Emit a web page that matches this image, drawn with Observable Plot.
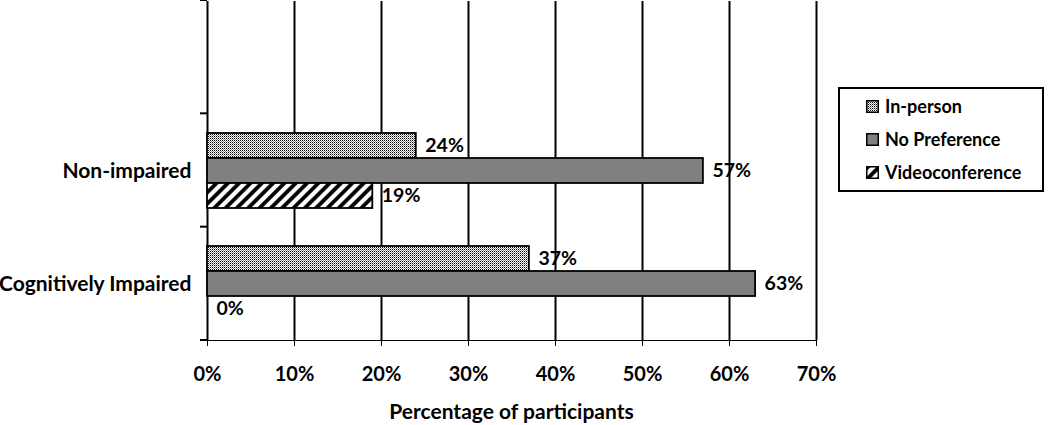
<!DOCTYPE html>
<html>
<head>
<meta charset="utf-8">
<script src="https://cdn.jsdelivr.net/npm/d3@7"></script>
<script src="https://cdn.jsdelivr.net/npm/@observablehq/plot@0.6"></script>
<style>
  body { margin: 0; background: #fff; }
  #wrap { position: relative; width: 1050px; height: 425px; font-family: Lato, sans-serif; }
  #defs { position: absolute; width: 0; height: 0; overflow: hidden; }
  #legend { position: absolute; left: 838px; top: 87px; width: 206px; height: 105px; box-sizing: border-box;
            border: 2px solid #000; background: #fff; padding: 1px 0 0 26px; }
  .item { height: 33px; line-height: 33px; font-weight: bold; font-size: 18px; color: #000; white-space: nowrap; display: flex; align-items: center; }
  .item svg { margin-right: 6px; flex: none; }
  #xtitle { position: absolute; left: 207px; width: 609px; top: 397px; text-align: center;
            font-weight: bold; font-size: 21px; line-height: 28px; color: #000; }
</style>
</head>
<body>
<div id="wrap">
  <svg id="defs" width="0" height="0">
    <defs>
      <pattern id="pin" patternUnits="userSpaceOnUse" width="4" height="4">
        <rect width="4" height="4" fill="#fff"></rect>
        <rect x="0" y="0" width="1" height="1" fill="#000"></rect>
        <rect x="2" y="0" width="1" height="1" fill="#000"></rect>
        <rect x="0" y="2" width="1" height="1" fill="#000"></rect>
        <rect x="2" y="2" width="1" height="1" fill="#000"></rect>
        <rect x="1" y="1" width="1" height="1" fill="#777"></rect>
        <rect x="3" y="3" width="1" height="1" fill="#777"></rect>
        <rect x="1" y="3" width="1" height="1" fill="#999"></rect>
        <rect x="3" y="1" width="1" height="1" fill="#999"></rect>
      </pattern>
      <pattern id="pvc" patternUnits="userSpaceOnUse" width="8" height="8" patternTransform="rotate(45)">
        <rect width="8" height="8" fill="#fff"></rect>
        <line x1="2" y1="-2" x2="2" y2="10" stroke="#000" stroke-width="3.8"></line>
      </pattern>
    </defs>
  </svg>
  <div id="chart"></div>
  <div id="legend"></div>
  <div id="xtitle"></div>
</div>
<script>
// ---- data ----
const groups = ["Non-impaired", "Cognitively Impaired"];
const series = ["In-person", "No Preference", "Videoconference"];
const nonImpaired = [0.24, 0.57, 0.19];
const cognitivelyImpaired = [0.37, 0.63, 0.00];
const xTicks = [0, 0.1, 0.2, 0.3, 0.4, 0.5, 0.6, 0.7];
const xTitle = "Percentage of participants";
const fyDomain = [" ", ...groups];
const fills = ["url(#pin)", "#808080", "url(#pvc)"];

const rows = [];
[nonImpaired, cognitivelyImpaired].forEach((vals, gi) =>
  vals.forEach((v, si) => rows.push({group: groups[gi], series: series[si], value: v, fill: fills[si]})));
const gridRows = fyDomain.flatMap(g => xTicks.map(t => ({g, t})));

const fmt = d3.format(".0%");

const plot = Plot.plot({
  width: 1050,
  height: 425,
  marginTop: 0,
  marginBottom: 85,
  marginLeft: 207,
  marginRight: 234,
  style: {fontFamily: "Lato, sans-serif", fontWeight: "bold", fontSize: "20px", color: "#000", background: "#fff", overflow: "visible"},
  x: {domain: [0, 0.7], ticks: xTicks, tickFormat: fmt, tickSize: 6, tickPadding: 20, line: true, label: null},
  y: {domain: series, axis: null, paddingInner: 0, paddingOuter: 0.76},
  fy: {domain: fyDomain, padding: 0, label: null, tickSize: 0, tickPadding: 16, axis: "left"},
  color: {type: "identity"},
  marks: [
    Plot.ruleX(gridRows, {x: "t", fy: "g", stroke: "#000", strokeWidth: 2}),
    Plot.barX(rows, {x: "value", y: "series", fy: "group", fill: "fill", stroke: "#000", strokeWidth: 1.8}),
    Plot.text(rows, {x: "value", y: "series", fy: "group", text: d => fmt(d.value), dx: 9, textAnchor: "start",
                     fontWeight: "bold", fontSize: 19.5, fill: "#000"})
  ]
});
document.getElementById("chart").appendChild(plot);

const svgNode = plot.tagName.toLowerCase() === "svg" ? plot : plot.querySelector("svg");
const svg = d3.select(svgNode);

// enlarge the facet (category) labels on the left
const fyS = plot.scale("fy");
const xS = plot.scale("x");
const x0 = xS.range[0];
svg.selectAll("text").filter(function() { return groups.includes(this.textContent); })
  .attr("font-size", 21).style("font-size", "21px");

// boundary ticks on the left axis, from the library's fy and x scales
const band = d3.scaleBand().domain(fyS.domain).range(fyS.range)
  .paddingInner(fyS.paddingInner || 0).paddingOuter(fyS.paddingOuter || 0);
const bounds = fyS.domain.map(d => band(d)).concat([band(fyS.domain[fyS.domain.length - 1]) + band.bandwidth()]);
svg.append("g").selectAll("line").data(bounds).join("line")
  .attr("x1", x0 - 7).attr("x2", x0).attr("y1", d => d).attr("y2", d => d)
  .attr("stroke", "#000").attr("stroke-width", 2);

// axis title
document.getElementById("xtitle").textContent = xTitle;

// legend
const legend = d3.select("#legend");
series.forEach((s, i) => {
  const it = legend.append("div").attr("class", "item");
  const sw = it.append("svg").attr("width", 13).attr("height", 13);
  sw.append("rect").attr("x", 0.75).attr("y", 0.75).attr("width", 11.5).attr("height", 11.5)
    .attr("fill", fills[i]).attr("stroke", "#000").attr("stroke-width", 1.5);
  it.append("span").text(s);
});
</script>
</body>
</html>
